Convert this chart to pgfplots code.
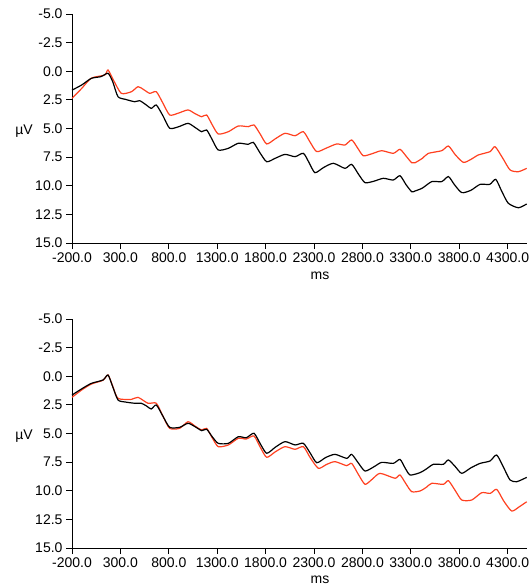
\documentclass[border=0pt]{standalone}
\usepackage{fontspec}
\setmainfont{Liberation Sans}
\usepackage{pgfplots}
\pgfplotsset{compat=1.18}
\definecolor{ered}{RGB}{255,64,32}

\pgfplotsset{
  erp/.style={
    scale only axis, width=455bp, height=229bp,
    xmin=-200, xmax=4500, ymin=-5, ymax=15, y dir=reverse,
    axis lines*=left,
    xtick={-200,300,...,4300}, ytick={-5,-2.5,...,15},
    tick align=outside, major tick length=6bp,
    every tick/.style={black, line width=0.8bp},
    axis line style={line width=0.8bp},
    /pgf/number format/assume math mode=true,
    /pgf/number format/.cd, fixed, fixed zerofill, precision=1, 1000 sep={},
    /pgfplots/.cd,
    tick label style={font=\fontsize{14bp}{16bp}\selectfont},
    label style={font=\fontsize{14bp}{16bp}\selectfont},
    xlabel={ms}, ylabel={µV},
    ylabel style={rotate=-90, at={(axis description cs:0,0.5)}, anchor=center, xshift=-48bp, yshift=-3bp},
    clip=false,
  },
  bl/.style={black, line width=1.2bp, smooth, tension=0.4, no marks},
  rd/.style={ered, line width=1.2bp, smooth, tension=0.4, no marks},
}

\begin{document}
\begin{tikzpicture}
\path[use as bounding box] (0,0) rectangle (531bp,586bp);

\begin{axis}[erp, at={(72bp,343bp)}, anchor=south west,
  xlabel style={at={(axis description cs:0.545,0)}, anchor=center, yshift=-33bp}]
\addplot[rd] coordinates {
(-200,2.37) (-100,1.5) (0,0.6) (138,0.33) (172,-0.11) (230,0.8) (309,1.93) (413,1.79) (482,1.35) (540,1.6) (603,1.93) (671,1.79) (740,2.8) (809,3.82) (895,3.67) (998,3.38) (1070,3.7) (1140,3.97) (1191,3.82) (1250,4.7) (1311,5.48) (1415,5.28) (1518,4.78) (1621,4.84) (1680,4.69) (1745,5.5) (1811,6.35) (1900,5.9) (2000,5.42) (2104,5.63) (2190,5.28) (2260,6.2) (2328,7.02) (2430,6.7) (2534,6.35) (2620,6.44) (2689,6.0) (2750,6.7) (2809,7.38) (2900,7.2) (2999,6.94) (3119,7.17) (3188,6.82) (3250,7.4) (3309,7.99) (3343,7.99) (3420,7.6) (3481,7.17) (3619,6.94) (3688,6.53) (3760,7.3) (3843,7.96) (3920,7.7) (3998,7.31) (4118,7.02) (4170,6.59) (4250,7.6) (4325,8.62) (4411,8.77) (4497,8.48)
};
\addplot[bl] coordinates {
(-200,1.65) (-100,1.2) (0,0.62) (100,0.47) (172,0.18) (220,0.9) (275,2.22) (350,2.45) (448,2.66) (499,2.57) (560,2.9) (619,3.24) (671,2.95) (740,3.9) (809,4.98) (900,4.85) (998,4.55) (1070,4.9) (1140,5.28) (1191,5.13) (1250,6.0) (1311,6.88) (1415,6.73) (1518,6.29) (1621,6.38) (1673,6.21) (1740,7.1) (1811,7.9) (1900,7.6) (2000,7.26) (2104,7.46) (2190,7.17) (2250,8.0) (2310,8.86) (2400,8.4) (2500,8.04) (2620,8.48) (2689,8.13) (2760,9.0) (2827,9.73) (2920,9.6) (3016,9.35) (3119,9.5) (3188,9.12) (3250,9.9) (3309,10.52) (3343,10.46) (3420,10.2) (3516,9.64) (3619,9.64) (3688,9.2) (3750,9.9) (3826,10.6) (3920,10.4) (4015,9.88) (4115,9.88) (4177,9.44) (4240,10.5) (4307,11.53) (4411,11.92) (4497,11.59)
};
\end{axis}

\begin{axis}[erp, at={(72bp,38bp)}, anchor=south west,
  xlabel style={at={(axis description cs:0.545,0)}, anchor=center, yshift=-32bp}]
\addplot[rd] coordinates {
(-200,1.84) (-100,1.2) (0,0.68) (120,0.35) (172,-0.11) (220,0.85) (275,1.93) (413,2.02) (482,1.84) (585,2.36) (671,2.36) (740,3.5) (809,4.55) (912,4.55) (998,3.97) (1070,4.35) (1140,4.69) (1191,4.55) (1250,5.4) (1311,6.15) (1415,6.0) (1518,5.42) (1600,5.48) (1680,5.22) (1745,6.2) (1811,7.08) (1900,6.6) (2000,6.15) (2104,6.38) (2190,6.15) (2260,7.1) (2345,8.04) (2430,7.7) (2517,7.46) (2638,7.81) (2689,7.61) (2760,8.6) (2827,9.44) (2900,9.0) (2982,8.48) (3137,8.91) (3188,8.62) (3250,9.4) (3309,10.08) (3395,10.02) (3460,9.7) (3516,9.35) (3636,9.44) (3688,9.12) (3760,10.0) (3826,10.81) (3929,10.81) (4032,10.17) (4120,10.23) (4187,9.88) (4260,10.9) (4342,11.77) (4420,11.4) (4497,10.96)
};
\addplot[bl] coordinates {
(-200,1.64) (-100,1.1) (0,0.62) (120,0.33) (172,-0.11) (220,0.9) (275,2.07) (350,2.25) (448,2.36) (516,2.36) (570,2.6) (619,2.86) (671,2.51) (740,3.5) (809,4.46) (912,4.46) (998,4.11) (1070,4.4) (1140,4.75) (1191,4.63) (1250,5.3) (1311,5.86) (1415,5.86) (1518,5.28) (1600,5.37) (1680,4.98) (1745,5.9) (1811,6.73) (1900,6.2) (2000,5.71) (2104,6.0) (2190,5.86) (2260,6.7) (2328,7.55) (2420,7.1) (2517,6.82) (2638,7.17) (2689,6.82) (2760,7.6) (2827,8.28) (2920,7.9) (2999,7.52) (3119,7.61) (3188,7.26) (3240,8.0) (3292,8.62) (3395,8.42) (3460,8.1) (3533,7.69) (3636,7.69) (3688,7.31) (3760,7.9) (3826,8.48) (3920,8.0) (4015,7.61) (4118,7.4) (4187,6.88) (4260,8.0) (4325,9.06) (4394,9.21) (4497,8.83)
};
\end{axis}
\end{tikzpicture}
\end{document}
